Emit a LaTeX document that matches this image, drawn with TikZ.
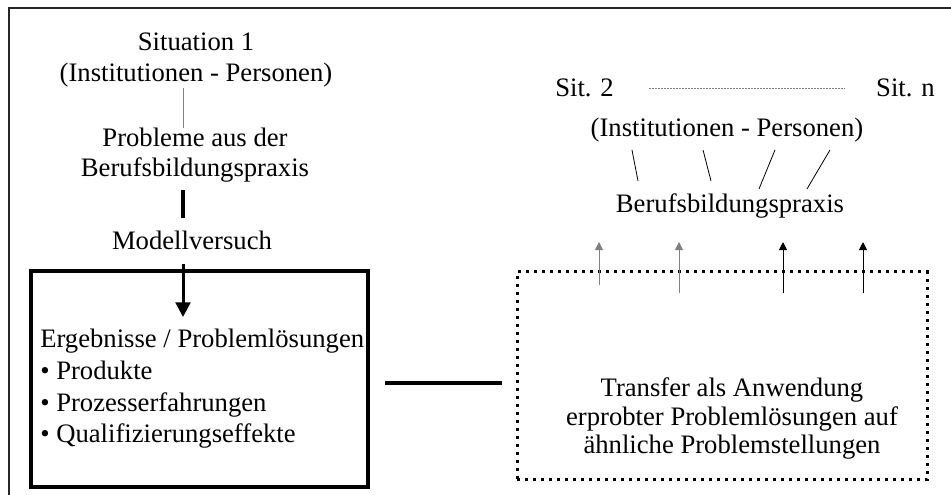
\documentclass[tikz,border=0pt]{standalone}
\usepackage{fontspec}
\setmainfont{Liberation Serif}
\usetikzlibrary{arrows.meta}

\begin{document}
\begin{tikzpicture}[x=0.75pt,y=-0.75pt,>={Triangle[length=6pt,width=6pt]},
  txt/.style={font=\fontsize{20}{23.5}\selectfont,inner sep=0pt}]
\useasboundingbox (0,0) rectangle (951,495);
\draw[line width=1.5pt,black!85] (8.5,495) -- (8.5,8.5) -- (951,8.5);
\coordinate (spine) at (183,0);
% left column
\node[txt,align=center,anchor=base] (sit1) at (196,82) {Situation 1\\(Institutionen - Personen)};
\node[txt,align=center,anchor=base,font=\fontsize{20}{22.5}\selectfont] (probl) at (195,177) {Probleme aus der\\Berufsbildungspraxis};
\node[txt,anchor=base] (modell) at (192,250) {Modellversuch};
\node[draw,line width=3pt,minimum width=252.75pt,minimum height=162pt,inner sep=0pt] (ergbox) at (199.5,379) {};
\node[txt,align=left,anchor=base west,font=\fontsize{20}{23.8}\selectfont] (ergeb) at (40,443) {Ergebnisse / Problemlösungen\\• Produkte\\• Prozesserfahrungen\\• Qualifizierungseffekte};
\draw[gray,line width=0.75pt] (sit1.south -| spine) -- (probl.north -| spine);
\draw[line width=3pt,shorten <=5.25pt,shorten >=9.75pt] (probl.south -| spine) -- (modell.north -| spine);
\draw[->,line width=2.25pt,>={Triangle[length=11pt,width=11pt]},shorten <=9.75pt,shorten >=9pt] (modell.south -| spine) -- (ergeb.north -| spine);
% right column
\node[txt,anchor=base west] (sit2) at (555,97) {Sit. 2};
\node[txt,anchor=base east] (sitn) at (935,97) {Sit. n};
\draw[gray,line width=0.75pt,dash pattern=on 1.5pt off 0.75pt,shorten <=26pt,shorten >=23pt] (sit2) -- (sitn);
\node[txt,anchor=base] (inst) at (727,137) {(Institutionen - Personen)};
\node[txt,anchor=base] (praxis) at (730,213) {Berufsbildungspraxis};
\draw[line width=0.6pt] ([shift={(-95,7)}]inst.south) -- ([shift={(-92,-13)}]praxis.north);
\draw[line width=0.6pt] ([shift={(-24,7)}]inst.south) -- ([shift={(-19,-13)}]praxis.north);
\draw[line width=0.6pt] ([shift={(48,7)}]inst.south) -- ([shift={(29,-5)}]praxis.north);
\draw[line width=0.6pt] ([shift={(103,7)}]inst.south) -- ([shift={(77,-5)}]praxis.north);
\node[draw,line width=2.25pt,dash pattern=on 2.25pt off 3.75pt,minimum width=307.5pt,minimum height=156pt,inner sep=0pt] (trbox) at (722,376) {};
\node[txt,align=center,anchor=base,font=\fontsize{20}{21.4}\selectfont] (transfer) at (732,454) {Transfer als Anwendung\\erprobter Problemlösungen auf\\ähnliche Problemstellungen};
\draw[->,gray,line width=0.75pt] ([shift={(-123,15)}]trbox.north) -- ([shift={(-131,23)}]praxis.south);
\draw[->,gray,line width=0.75pt] ([shift={(-43,23)}]trbox.north) -- ([shift={(-51,23)}]praxis.south);
\draw[->,line width=0.75pt] ([shift={(61,23)}]trbox.north) -- ([shift={(53,23)}]praxis.south);
\draw[->,line width=0.75pt] ([shift={(141,23)}]trbox.north) -- ([shift={(133,23)}]praxis.south);
\draw[line width=3pt] ([shift={(15,4)}]ergbox.east) -- ([shift={(-14,4)}]ergbox.east -| trbox.west);
\end{tikzpicture}
\end{document}
